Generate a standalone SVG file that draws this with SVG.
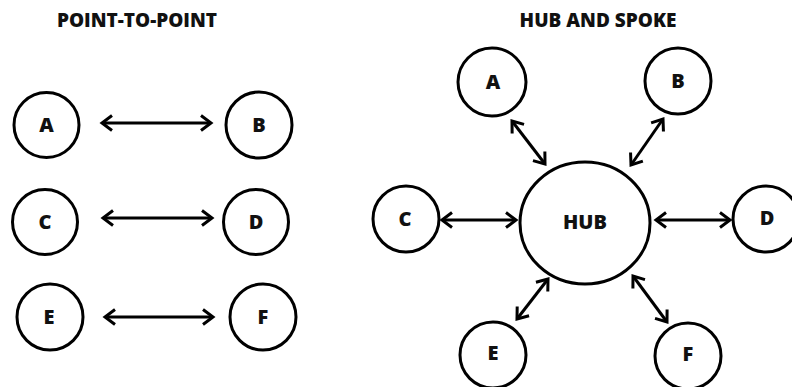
<svg xmlns="http://www.w3.org/2000/svg" width="792" height="387" viewBox="0 0 792 387">
<defs>
<style>
.n{fill:#fff;stroke:#000;stroke-width:3}
.t{font-family:"Open Sans","Liberation Sans",sans-serif;font-weight:800;font-size:20px;fill:#111;text-anchor:middle}
.h{font-family:"Open Sans","Liberation Sans",sans-serif;font-weight:800;font-size:19px;fill:#111;text-anchor:middle}
.c{stroke:#000;stroke-width:3;fill:none;marker-start:url(#ah);marker-end:url(#ah)}
</style>
<marker id="ah" markerUnits="userSpaceOnUse" markerWidth="30" markerHeight="30" refX="0" refY="0" orient="auto-start-reverse" overflow="visible">
<path d="M-10,-7.5 L0,0 L-10,7.5" fill="none" stroke="#000" stroke-width="3" stroke-linejoin="miter"/>
</marker>
</defs>
<rect width="792" height="387" fill="#fff"/>
<text class="h" x="137" y="27">POINT-TO-POINT</text>
<text class="h" x="598" y="27">HUB AND SPOKE</text>
<g id="connectors">
<line class="c" x1="102" y1="123" x2="211" y2="123"/>
<line class="c" x1="103" y1="218" x2="212" y2="218"/>
<line class="c" x1="105" y1="317" x2="213" y2="317"/>
<line class="c" x1="512" y1="121" x2="545" y2="164"/>
<line class="c" x1="663" y1="119" x2="631" y2="165"/>
<line class="c" x1="442" y1="220" x2="516" y2="220"/>
<line class="c" x1="656" y1="220" x2="730" y2="220"/>
<line class="c" x1="548" y1="279" x2="517" y2="319"/>
<line class="c" x1="633" y1="276" x2="667" y2="322"/>
</g>
<g id="p2p-A"><circle class="n" cx="46.5" cy="125" r="32.5"/><text class="t" x="46.5" y="132">A</text></g>
<g id="p2p-B"><circle class="n" cx="259" cy="125" r="33"/><text class="t" x="259" y="132">B</text></g>
<g id="p2p-C"><circle class="n" cx="45" cy="222" r="32.5"/><text class="t" x="45" y="229">C</text></g>
<g id="p2p-D"><circle class="n" cx="256" cy="222" r="32.5"/><text class="t" x="256" y="229">D</text></g>
<g id="p2p-E"><circle class="n" cx="50" cy="317" r="33"/><text class="t" x="49" y="324">E</text></g>
<g id="p2p-F"><circle class="n" cx="263" cy="317" r="33"/><text class="t" x="263" y="324">F</text></g>
<g id="hub"><ellipse class="n" cx="585" cy="223" rx="65" ry="61"/><text class="t" x="585" y="229">HUB</text></g>
<g id="hs-A"><circle class="n" cx="492" cy="82" r="34"/><text class="t" x="493" y="89">A</text></g>
<g id="hs-B"><circle class="n" cx="678" cy="81" r="33"/><text class="t" x="678" y="88">B</text></g>
<g id="hs-C"><circle class="n" cx="406" cy="219" r="33"/><text class="t" x="405" y="226">C</text></g>
<g id="hs-D"><circle class="n" cx="766" cy="219" r="33"/><text class="t" x="767" y="225">D</text></g>
<g id="hs-E"><circle class="n" cx="493" cy="355" r="33"/><text class="t" x="493" y="360">E</text></g>
<g id="hs-F"><circle class="n" cx="688" cy="356" r="33"/><text class="t" x="688" y="361">F</text></g>
</svg>
